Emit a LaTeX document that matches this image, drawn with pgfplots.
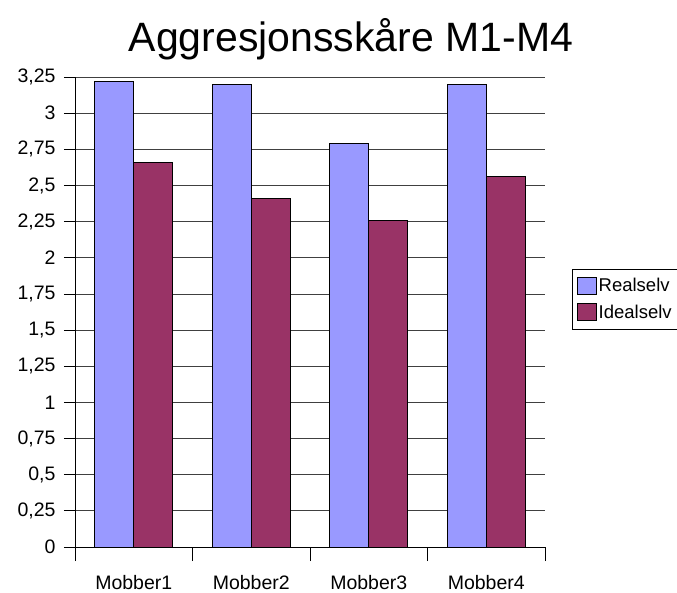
\documentclass[border=0pt]{standalone}
\usepackage{pgfplots}
\pgfplotsset{compat=1.18}
\usepackage{fontspec}
\setmainfont{Liberation Sans}
\definecolor{realc}{HTML}{9999FF}
\definecolor{idealc}{HTML}{993366}
\begin{document}
\begin{tikzpicture}
\path[use as bounding box] (-75pt,-45pt) rectangle (602pt,547pt);
\begin{axis}[
  at={(0pt,0pt)}, anchor=south west,
  scale only axis, width=470pt, height=470pt,
  ybar=0pt, bar width=39pt,
  xmin=-0.5, xmax=3.5, ymin=0, ymax=3.25,
  axis x line=bottom, axis y line=left,
  axis line style={-, black, line width=0.8pt},
  tick align=outside,
  xtick={0,1,2,3}, xticklabels={Mobber1,Mobber2,Mobber3,Mobber4},
  minor xtick={-0.5,0.5,1.5,2.5,3.5},
  major x tick style={draw=none},
  minor x tick style={black, line width=0.8pt},
  minor tick length=14pt,
  major tick length=11pt,
  ytick={0,0.25,0.5,0.75,1,1.25,1.5,1.75,2,2.25,2.5,2.75,3,3.25},
  y tick style={black, line width=0.8pt},
  ymajorgrids, grid style={black!75, line width=0.8pt},
  /pgf/number format/.cd, use comma, 1000 sep={}, assume math mode=true,
  /pgfplots/.cd,
  tick label style={font=\fontsize{19.5}{23}\selectfont},
  yticklabel style={xshift=-5pt},
  xticklabel style={yshift=-13.5pt},
  legend style={at={(1.057,0.527)}, anchor=west, draw=black, line width=0.6pt,
    font=\fontsize{18.5}{22}\selectfont, row sep=8pt, inner xsep=5pt, inner ysep=7pt},
  legend cell align=left,
  legend image code/.code={\draw[#1,draw=black,line width=0.6pt] (0pt,-8pt) rectangle (19pt,9pt);},
]
\addplot[fill=realc, draw=black, line width=0.6pt] coordinates {(0,3.22) (1,3.20) (2,2.79) (3,3.20)};
\addplot[fill=idealc, draw=black, line width=0.6pt] coordinates {(0,2.66) (1,2.41) (2,2.26) (3,2.56)};
\legend{Realselv,Idealselv}
\end{axis}
\node[anchor=base, font=\fontsize{41}{49}\selectfont] at (276pt,495pt) {Aggresjonsskåre M1-M4};
\end{tikzpicture}
\end{document}
